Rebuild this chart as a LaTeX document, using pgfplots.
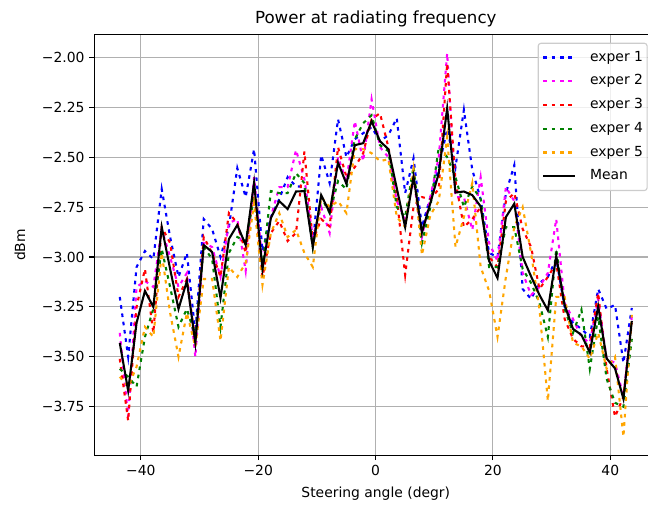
\documentclass[border=0pt]{standalone}
\usepackage{fontspec}
\setmainfont{DejaVu Sans}
\usepackage{pgfplots}
\usepackage{pgfplotstable}
\pgfplotsset{compat=1.18}
\definecolor{gridgray}{RGB}{176,176,176}
\definecolor{leggray}{RGB}{204,204,204}
\definecolor{mplgreen}{RGB}{0,128,0}
\definecolor{mplorange}{RGB}{255,165,0}
\definecolor{mplmagenta}{RGB}{255,0,255}
\definecolor{mplblue}{RGB}{0,0,255}
\definecolor{mplred}{RGB}{255,0,0}

\pgfplotstableread{
x e1 e2 e3 e4 e5 mean
-43.60 -3.20 -3.38 -3.51 -3.56 -3.60 -3.43
-42.17 -3.50 -3.80 -3.82 -3.60 -3.65 -3.67
-40.74 -3.05 -3.15 -3.25 -3.65 -3.55 -3.33
-39.31 -2.97 -3.12 -3.06 -3.40 -3.35 -3.17
-37.88 -3.01 -3.15 -3.38 -3.26 -3.40 -3.25
-36.45 -2.66 -2.86 -2.85 -2.96 -2.98 -2.85
-35.02 -2.90 -3.00 -2.93 -3.15 -3.28 -3.06
-33.59 -3.10 -3.15 -3.20 -3.35 -3.50 -3.26
-32.16 -2.98 -3.08 -3.11 -3.26 -3.28 -3.12
-30.72 -3.38 -3.50 -3.42 -3.40 -3.45 -3.43
-29.29 -2.81 -2.93 -2.90 -2.95 -3.11 -2.94
-27.86 -2.86 -2.95 -2.98 -3.01 -3.11 -2.975
-26.43 -3.00 -3.10 -3.10 -3.35 -3.42 -3.205
-25.00 -2.85 -2.83 -2.78 -2.98 -3.05 -2.91
-23.57 -2.555 -2.81 -2.83 -2.90 -3.10 -2.84
-22.14 -2.70 -3.07 -2.98 -2.92 -3.03 -2.94
-20.71 -2.46 -2.60 -2.65 -2.70 -2.73 -2.627
-19.28 -2.97 -3.03 -3.10 -3.05 -3.14 -3.06
-17.85 -2.80 -2.80 -2.88 -2.67 -2.88 -2.805
-16.42 -2.71 -2.65 -2.82 -2.68 -2.78 -2.72
-14.99 -2.60 -2.65 -2.92 -2.68 -2.90 -2.76
-13.56 -2.647 -2.464 -2.88 -2.58 -2.864 -2.672
-12.13 -2.647 -2.61 -2.472 -2.63 -2.98 -2.67
-10.70 -2.94 -2.90 -2.92 -2.95 -3.05 -2.95
-9.27 -2.49 -2.75 -2.81 -2.70 -2.70 -2.69
-7.83 -2.63 -2.88 -2.847 -2.78 -2.75 -2.777
-6.40 -2.31 -2.50 -2.45 -2.62 -2.72 -2.527
-4.97 -2.50 -2.62 -2.60 -2.66 -2.78 -2.634
-3.54 -2.41 -2.32 -2.55 -2.41 -2.46 -2.44
-2.11 -2.38 -2.52 -2.48 -2.33 -2.46 -2.43
-0.68 -2.35 -2.21 -2.31 -2.29 -2.48 -2.32
0.75 -2.42 -2.45 -2.28 -2.44 -2.52 -2.42
2.18 -2.39 -2.50 -2.45 -2.47 -2.51 -2.46
3.61 -2.305 -2.72 -2.70 -2.75 -2.80 -2.655
5.04 -2.68 -2.81 -3.09 -2.80 -2.85 -2.85
6.47 -2.505 -2.61 -2.747 -2.547 -2.56 -2.597
7.90 -2.85 -2.90 -2.70 -2.93 -2.99 -2.877
9.33 -2.70 -2.70 -2.71 -2.75 -2.79 -2.73
10.77 -2.55 -2.50 -2.66 -2.45 -2.72 -2.58
12.20 -2.36 -1.98 -2.03 -2.50 -2.40 -2.255
13.62 -2.55 -2.70 -2.62 -2.60 -2.95 -2.677
15.05 -2.263 -2.70 -2.85 -2.75 -2.80 -2.672
16.48 -2.563 -2.864 -2.81 -2.647 -2.63 -2.69
17.91 -2.71 -2.60 -2.75 -2.71 -3.05 -2.747
19.35 -2.98 -2.93 -3.00 -3.05 -3.17 -3.02
20.78 -3.00 -3.02 -3.05 -3.05 -3.40 -3.105
22.21 -2.68 -2.65 -2.72 -2.85 -3.10 -2.80
23.64 -2.54 -2.72 -2.68 -2.85 -2.85 -2.733
25.07 -3.16 -3.08 -2.86 -3.06 -2.75 -3.00
26.50 -3.21 -3.19 -2.95 -3.13 -2.98 -3.097
27.93 -3.13 -3.15 -3.16 -3.23 -3.26 -3.19
29.36 -3.10 -3.08 -3.10 -3.40 -3.72 -3.267
30.79 -3.01 -2.81 -3.03 -2.96 -3.20 -2.995
32.22 -3.25 -3.23 -3.31 -3.26 -3.20 -3.24
33.65 -3.33 -3.31 -3.41 -3.38 -3.43 -3.36
35.08 -3.36 -3.40 -3.447 -3.264 -3.447 -3.39
36.51 -3.40 -3.43 -3.45 -3.56 -3.51 -3.478
37.94 -3.16 -3.21 -3.18 -3.30 -3.38 -3.247
39.38 -3.26 -3.51 -3.56 -3.61 -3.56 -3.508
40.81 -3.24 -3.53 -3.80 -3.73 -3.50 -3.558
42.24 -3.53 -3.70 -3.70 -3.75 -3.90 -3.71
43.67 -3.255 -3.30 -3.33 -3.41 -3.29 -3.32
}\data

\begin{document}
\begin{tikzpicture}
\begin{axis}[
  at={(67.82pt,36.50pt)}, anchor=south west,
  scale only axis, width=405.5pt, height=302.8pt,
  xmin=-47.96, xmax=48.03, ymin=-3.993, ymax=-1.887,
  xtick={-40,-20,0,20,40},
  xticklabels={−40,−20,0,20,40},
  ytick={-3.75,-3.5,-3.25,-3,-2.75,-2.5,-2.25,-2},
  yticklabels={−3.75,−3.50,−3.25,−3.00,−2.75,−2.50,−2.25,−2.00},
  tick align=outside, tick pos=left, major tick length=3.5pt,
  every tick/.style={black, line width=0.8pt},
  axis line style={line width=0.8pt},
  grid=major, major grid style={gridgray, line width=0.8pt},
  ticklabel style={font=\fontsize{10}{12}\selectfont},
  every axis title shift=0pt,
  title={Power at radiating frequency},
  title style={at={(axis description cs:0.5,1)}, anchor=base, yshift=8.3pt, font=\fontsize{12}{14}\selectfont},
  xlabel={Steering angle (degr)},
  xlabel style={at={(axis description cs:0.5,0)}, anchor=base, yshift=-30.6pt, font=\fontsize{10}{12}\selectfont},
  ylabel={dBm},
  ylabel style={at={(axis description cs:-0.1318,0.5)}, anchor=center, font=\fontsize{10}{12}\selectfont},
  legend cell align=left,
  legend image code/.code={\draw[#1] (0pt,0pt) -- (23pt,0pt);},
  legend style={
    at={(axis description cs:0.9828,0.981)}, anchor=north east,
    draw=leggray, line width=0.8pt, rounded corners=2pt, fill=white, fill opacity=0.8, text opacity=1,
    font=\fontsize{10}{12}\selectfont,
    inner xsep=3pt, inner ysep=5.5pt, row sep=7.6pt,
    nodes={inner sep=0pt, text height=7.4pt, text depth=2.1pt},
    /tikz/every odd column/.append style={column sep=9.9pt},
  },
]
\addplot[mplblue, line width=1.5pt, dash pattern=on 2.6pt off 3.4pt] table[x=x,y=e1]{\data};
\addlegendentry{exper 1}
\addplot[mplmagenta, line width=1.5pt, dash pattern=on 2.6pt off 3.4pt] table[x=x,y=e2]{\data};
\addlegendentry{exper 2}
\addplot[mplred, line width=1.5pt, dash pattern=on 2.6pt off 3.4pt] table[x=x,y=e3]{\data};
\addlegendentry{exper 3}
\addplot[mplgreen, line width=1.5pt, dash pattern=on 2.6pt off 3.4pt] table[x=x,y=e4]{\data};
\addlegendentry{exper 4}
\addplot[mplorange, line width=1.5pt, dash pattern=on 2.6pt off 3.4pt] table[x=x,y=e5]{\data};
\addlegendentry{exper 5}
\addplot[black, line width=1.5pt] table[x=x,y=mean]{\data};
\addlegendentry{Mean}
\end{axis}
\pgfresetboundingbox
\path[use as bounding box] (0,0) rectangle (466.56pt,364.32pt);
\end{tikzpicture}
\end{document}
